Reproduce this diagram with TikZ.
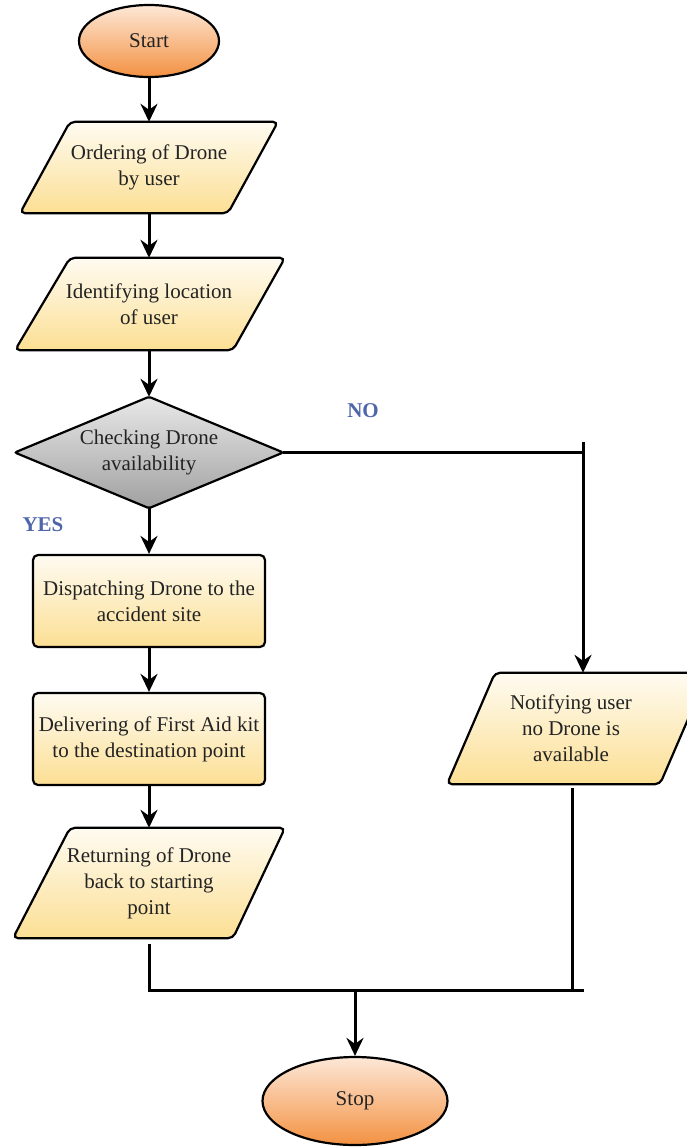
\documentclass[tikz,border=0pt]{standalone}
\usepackage{fontspec}
\setmainfont{Liberation Serif}
\newfontfamily\tnrfont{Liberation Serif}
\usetikzlibrary{arrows.meta,backgrounds,shapes.geometric}
\definecolor{txt}{RGB}{35,35,35}
\definecolor{orTop}{RGB}{253,232,215}
\definecolor{orBot}{RGB}{243,145,66}
\definecolor{yeTop}{RGB}{254,251,241}
\definecolor{yeBot}{RGB}{252,223,148}
\definecolor{grTop}{RGB}{232,232,232}
\definecolor{grBot}{RGB}{160,160,160}
\definecolor{lbl}{RGB}{78,102,170}
\begin{document}
\begin{tikzpicture}[x=1pt,y=-1pt,
 every node/.style={font=\tnrfont\fontsize{21}{26}\selectfont, text=txt, align=center},
 term/.style={ellipse, draw, line width=2.2pt, top color=orTop, bottom color=orBot, inner sep=0pt},
 procbox/.style={rectangle, rounded corners=5pt, draw, line width=2.2pt, top color=yeTop, bottom color=yeBot, minimum width=232pt, minimum height=92pt, inner sep=0pt},
 holder/.style={rectangle, inner sep=0pt},
 iofill/.style={draw, line width=2.2pt, rounded corners=5pt, top color=yeTop, bottom color=yeBot},
 decfill/.style={draw, line width=2.2pt, rounded corners=2pt, top color=grTop, bottom color=grBot},
 conn/.style={line width=3pt, -{Stealth[length=18pt,width=17pt,inset=6pt]}},
 wire/.style={line width=3pt},
 lab/.style={font=\tnrfont\bfseries\fontsize{21}{26}\selectfont, text=lbl}]
\path[use as bounding box] (0,0) rectangle (686,1147);

\node[term, minimum width=140pt, minimum height=72pt] (start) at (149,41) {Start};
\node[holder, minimum height=91pt] (p1) at (149,167.5) {Ordering of Drone\\by user};
\node[holder, minimum height=92pt] (p2) at (149,304) {Identifying location\\of user};
\node[holder, minimum width=268pt, minimum height=111pt] (dia) at (149,452.5) {Checking Drone\\availability};
\node[procbox] (disp) at (149,601) {Dispatching Drone to the\\accident site};
\node[procbox] (deliv) at (149,739) {Delivering of First Aid kit\\to the destination point};
\node[holder, minimum height=110pt] (ret) at (149,883) {Returning of Drone\\back to starting\\point};
\node[holder, minimum height=111pt] (notif) at (571,728.5) {Notifying user\\no Drone is\\available};
\node[term, minimum width=185pt, minimum height=88pt] (stop) at (355,1101) {Stop};
\node[lab] (yes) at (43,525) {YES};
\node[lab] (no) at (363,411) {NO};

\begin{scope}[on background layer]
\draw[iofill] ([xshift=-79pt]p1.north) -- ([xshift=129pt]p1.north) -- ([xshift=79pt]p1.south) -- ([xshift=-129pt]p1.south) -- cycle;
\draw[iofill] ([xshift=-79pt]p2.north) -- ([xshift=136pt]p2.north) -- ([xshift=84pt]p2.south) -- ([xshift=-134pt]p2.south) -- cycle;
\draw[iofill] ([xshift=-79pt]ret.north) -- ([xshift=136pt]ret.north) -- ([xshift=84pt]ret.south) -- ([xshift=-136pt]ret.south) -- cycle;
\draw[iofill] ([xshift=-76pt]notif.north) -- ([xshift=137pt]notif.north) -- ([xshift=89pt]notif.south) -- ([xshift=-124pt]notif.south) -- cycle;
\draw[decfill] (dia.north) -- (dia.east) -- (dia.south) -- (dia.west) -- cycle;
\end{scope}

\draw[conn] (start.south) -- (p1.north);
\draw[conn] (p1.south) -- (p2.north);
\draw[conn] (p2.south) -- (dia.north);
\draw[conn] (dia.south) -- (disp.north);
\draw[conn] (disp.south) -- (deliv.north);
\draw[conn] (deliv.south) -- (ret.north);

\coordinate (nocorner) at (583,452.5);
\coordinate (notop) at (583,442);
\draw[wire] (dia.east) -- (nocorner);
\draw[conn] (notop) -- ([xshift=12pt]notif.north);

\coordinate (jl) at (149,990);
\coordinate (jr) at (584,990);
\coordinate (jn) at (572,990);
\coordinate (jm) at (355,990);
\draw[wire] ([yshift=-6pt]ret.south) -- (jl) -- (jr);
\draw[wire] ([xshift=1pt,yshift=-4pt]notif.south) -- (jn);
\draw[conn] (jm) -- (stop.north);
\end{tikzpicture}
\end{document}
